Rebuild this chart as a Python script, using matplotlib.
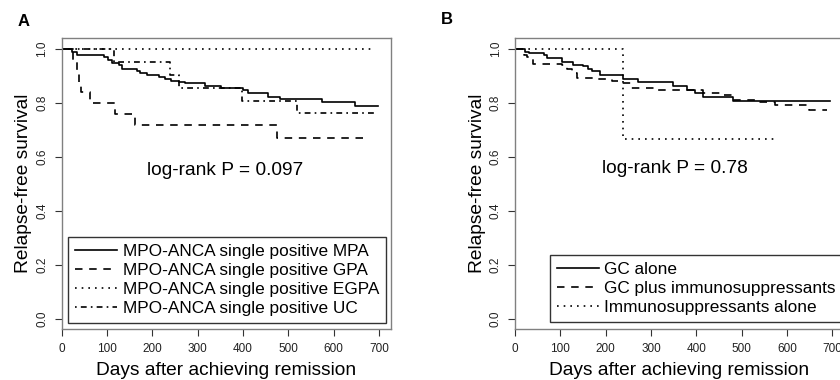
import matplotlib
matplotlib.use('Agg')
import matplotlib.pyplot as plt

plt.rcParams['font.family'] = ['Liberation Sans', 'DejaVu Sans']

# Panel A: MPO-ANCA single positive subgroups (days, relapse-free survival)
mpa_t = [0, 23, 34, 93, 103, 110, 126, 132, 165, 173, 188, 214, 228, 242, 258, 272, 316, 352, 401, 412, 456, 482, 574, 648, 697]
mpa_s = [1.0, 0.99, 0.978, 0.972, 0.959, 0.949, 0.941, 0.928, 0.919, 0.910, 0.905, 0.897, 0.891, 0.883, 0.879, 0.873, 0.864, 0.857, 0.848, 0.836, 0.823, 0.815, 0.805, 0.79, 0.79]
gpa_t = [0, 25, 34, 38, 43, 63, 118, 161, 475, 673]
gpa_s = [1.0, 0.96, 0.92, 0.88, 0.84, 0.80, 0.76, 0.72, 0.672, 0.672]
egpa_t = [0, 692]
egpa_s = [1.0, 1.0]
uc_t = [0, 115, 239, 258, 398, 519, 697]
uc_s = [1.0, 0.952, 0.905, 0.857, 0.807, 0.764, 0.764]
labels_a = ['MPO-ANCA single positive MPA', 'MPO-ANCA single positive GPA',
            'MPO-ANCA single positive EGPA', 'MPO-ANCA single positive UC']

# Panel B: treatment groups
gc_t = [0, 22, 30, 63, 70, 104, 129, 151, 162, 170, 188, 239, 272, 349, 379, 397, 415, 482, 695]
gc_s = [1.0, 0.991, 0.985, 0.978, 0.966, 0.954, 0.943, 0.936, 0.926, 0.918, 0.906, 0.891, 0.879, 0.865, 0.849, 0.837, 0.822, 0.809, 0.809]
gcis_t = [0, 19, 27, 40, 104, 115, 126, 137, 174, 214, 236, 255, 309, 415, 459, 478, 530, 574, 648, 688]
gcis_s = [1.0, 0.98, 0.97, 0.947, 0.941, 0.928, 0.910, 0.895, 0.888, 0.883, 0.873, 0.857, 0.848, 0.838, 0.830, 0.811, 0.805, 0.795, 0.774, 0.774]
imm_t = [0, 239, 572]
imm_s = [1.0, 0.667, 0.667]
labels_b = ['GC alone', 'GC plus immunosuppressants', 'Immunosuppressants alone']

xticks = [0, 100, 200, 300, 400, 500, 600, 700]
yticks = [0.0, 0.2, 0.4, 0.6, 0.8, 1.0]

styles = ['-', (0, (4.5, 4)), (0, (1, 3)), (0, (1, 2.5, 3.5, 2.5))]
LW = 1.2
FS = 13.8
LEG_FS = 12.4


def setup_axes(ax):
    ax.set_xlim(0, 726)
    ax.set_ylim(-0.039, 1.043)
    ax.set_xticks(xticks)
    ax.set_yticks(yticks)
    ax.set_yticklabels(['%.1f' % v for v in yticks], rotation=90, va='center')
    ax.tick_params(axis='both', labelsize=8.5, length=5, width=0.8, color='#333333',
                   labelcolor='#222222', pad=4.5)
    for sp in ax.spines.values():
        sp.set_color('#808080')
        sp.set_linewidth(1.0)
    ax.set_xlabel('Days after achieving remission', fontsize=FS, labelpad=5)
    ax.set_ylabel('Relapse-free survival', fontsize=FS, labelpad=3)


def add_legend(ax, anchor):
    leg = ax.legend(loc='upper left', bbox_to_anchor=anchor, bbox_transform=fig.transFigure,
                    fontsize=LEG_FS, frameon=True, fancybox=False, edgecolor='black',
                    borderaxespad=0, handlelength=2.45, handletextpad=0.3,
                    labelspacing=0.22, borderpad=0.4)
    leg.get_frame().set_linewidth(1.0)
    return leg


fig = plt.figure(figsize=(8.4, 3.8), dpi=100)
axA = fig.add_axes([0.0735, 0.133, 0.3916, 0.768])
axB = fig.add_axes([0.6131, 0.133, 0.3917, 0.768])

setup_axes(axA)
for (t, s), ls, lab in zip([(mpa_t, mpa_s), (gpa_t, gpa_s), (egpa_t, egpa_s), (uc_t, uc_s)], styles, labels_a):
    axA.step(t, s, where='post', color='black', lw=LW, linestyle=ls, label=lab)
axA.text(361, 0.552, 'log-rank P = 0.097', fontsize=FS, ha='center', va='center')
add_legend(axA, (0.0813, 0.3755))

setup_axes(axB)
for (t, s), ls, lab in zip([(gc_t, gc_s), (gcis_t, gcis_s), (imm_t, imm_s)], styles, labels_b):
    axB.step(t, s, where='post', color='black', lw=LW, linestyle=ls, label=lab)
axB.text(353, 0.559, 'log-rank P = 0.78', fontsize=FS, ha='center', va='center')
add_legend(axB, (0.6548, 0.329))

fig.text(24 / 840, 1 - 21 / 380, 'A', fontsize=12, fontweight='bold', ha='center', va='center')
fig.text(447 / 840, 1 - 20 / 380, 'B', fontsize=12, fontweight='bold', ha='center', va='center')

fig.savefig('out.png', dpi=100)
